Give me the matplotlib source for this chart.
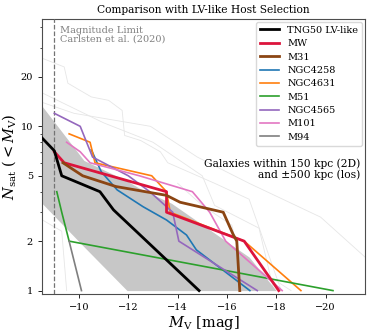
import numpy as np
import matplotlib
matplotlib.use("Agg")
import matplotlib.pyplot as plt
from matplotlib.ticker import FixedLocator, NullFormatter

plt.rcParams['font.family'] = 'DejaVu Serif'
plt.rcParams['mathtext.fontset'] = 'dejavuserif'

# TNG50 LV-like median and scatter band
band_x = [-8.5, -10.2, -11.95, -12.45, -13.75, -16.9, -18.0]
band_hi = [13.3, 6.2, 4.65, 4.2, 3.4, 1.6, 1.0]
band_lo = [3.4, 1.85, 1.0, 1.0, 1.0, 1.0, 1.0]
tng_x = [-8.5, -9.0, -9.3, -10.85, -11.4, -14.87]
tng_y = [8.5, 7.1, 5.0, 4.0, 3.1, 1.0]

# observed hosts
mw_x = [-9.0, -9.4, -13.55, -13.55, -16.7, -18.1]
mw_y = [7, 6, 4, 3, 2, 1]
m31_x = [-9.35, -10.15, -11.5, -13.55, -14.1, -15.85, -16.25, -16.4, -16.52]
m31_y = [6, 5, 4.3, 3.8, 3.45, 3.0, 2.2, 2.0, 1.0]
n4258_x = [-10.5, -10.9, -11.55, -12.6, -13.55, -14.36, -14.76, -16.93]
n4258_y = [7.2, 5.3, 4.1, 3.24, 2.69, 2.18, 1.77, 1.0]
n4631_x = [-9.6, -10.45, -10.65, -12.95, -13.55, -13.7, -16.7, -19.0]
n4631_y = [9, 8, 6, 5, 4, 3, 2, 1]
m51_x = [-9.1, -9.3, -9.6, -20.3]
m51_y = [4, 3, 2, 1]
n4565_x = [-9.0, -10.05, -10.55, -12.0, -12.87, -13.8, -14.05, -17.23]
n4565_y = [12, 10, 6.5, 5, 4, 3, 2, 1]
m101_x = [-9.5, -10.05, -10.45, -12.45, -14.6, -15.3, -15.95, -18.24]
m101_y = [8, 7, 6, 5, 4, 3, 2, 1]
m94_x = [-9.6, -10.1]
m94_y = [2, 1]

# individual TNG50 hosts (faint)
faint = [
    ([-8.5, -9.4, -9.55, -10.5, -11.2, -11.75, -11.85, -12.5, -13.3, -13.6, -15.5, -16.9, -18.2],
     [26, 23, 18.3, 15.1, 14.4, 12.5, 8.8, 8.2, 7.0, 6.0, 4.5, 3.6, 1.0]),
    ([-8.5, -9.8, -12.9, -14.8, -16.9, -19.8, -21.6],
     [14, 12, 10, 6.5, 4.5, 2.8, 1.6]),
    ([-8.5, -9.3, -9.5], [2.7, 2.3, 1.0]),
    ([-8.5, -11.0, -13.0, -15.0, -15.5, -17.3, -17.9], [16, 10.5, 8.0, 5.0, 3.3, 2.4, 1.0]),
    ([-14.0, -15.0, -16.2, -16.5, -18.6], [4.5, 3.3, 2.5, 1.6, 1.0]),
]

y_major = [1, 2, 5, 10, 20]
y_minor = [3, 4, 6, 7, 8, 9, 30, 40]
x_ticks = [-10, -12, -14, -16, -18, -20]

fig = plt.figure(figsize=(3.74, 3.34), dpi=100)
ax = fig.add_axes([0.1123, 0.119, 0.8637, 0.824])

for fx, fy in faint:
    ax.plot(fx, fy, color='0.9', lw=0.6, zorder=1)

ax.fill_between(band_x, band_lo, band_hi, color='0.78', lw=0, zorder=2)
ax.axvline(-9.0, color='0.45', ls='--', lw=0.9, zorder=3)

ax.plot(tng_x, tng_y, color='black', lw=2.0, label='TNG50 LV-like', zorder=6)
ax.plot(mw_x, mw_y, color='crimson', lw=2.0, label='MW', zorder=5)
ax.plot(m31_x, m31_y, color='saddlebrown', lw=2.0, label='M31', zorder=5)
ax.plot(n4258_x, n4258_y, color='tab:blue', lw=1.2, label='NGC4258', zorder=4)
ax.plot(n4631_x, n4631_y, color='tab:orange', lw=1.2, label='NGC4631', zorder=4)
ax.plot(m51_x, m51_y, color='tab:green', lw=1.2, label='M51', zorder=4)
ax.plot(n4565_x, n4565_y, color='tab:purple', lw=1.2, label='NGC4565', zorder=4)
ax.plot(m101_x, m101_y, color='tab:pink', lw=1.2, label='M101', zorder=4)
ax.plot(m94_x, m94_y, color='tab:gray', lw=1.2, label='M94', zorder=4)

ax.set_yscale('log')
ax.set_xlim(-8.5, -21.6)
ax.set_ylim(0.95, 45)
ax.set_yticks(y_major, labels=[str(v) for v in y_major])
ax.yaxis.set_minor_locator(FixedLocator(y_minor))
ax.yaxis.set_minor_formatter(NullFormatter())
ax.set_xticks(x_ticks, labels=['\u2212%d' % -v for v in x_ticks])
ax.tick_params(labelsize=7, length=3, width=0.6)
ax.tick_params(which='minor', length=1.8, width=0.5)
for s in ax.spines.values():
    s.set_color('0.3')

ax.set_xlabel(r'$M_{\rm V}$ [mag]', fontsize=10.5, labelpad=1)
ax.set_ylabel(r'$N_{\rm sat}$ $(<M_{\rm V})$', fontsize=10.5, labelpad=2)
ax.set_title('Comparison with LV-like Host Selection', fontsize=7.7, pad=4)

ax.text(-9.25, 41, 'Magnitude Limit\nCarlsten et al. (2020)', color='0.5',
        fontsize=7, va='top', ha='left', linespacing=1.05)
ax.text(0.985, 0.495, 'Galaxies within 150 kpc (2D)\nand \u00b1500 kpc (los)',
        transform=ax.transAxes, ha='right', va='top', fontsize=7.7, linespacing=1.1)

ax.legend(loc='upper right', fontsize=7, handlelength=2.0, labelspacing=0.45,
          borderaxespad=0.3, framealpha=1.0, edgecolor='0.85')

fig.savefig('out.png', dpi=100)
